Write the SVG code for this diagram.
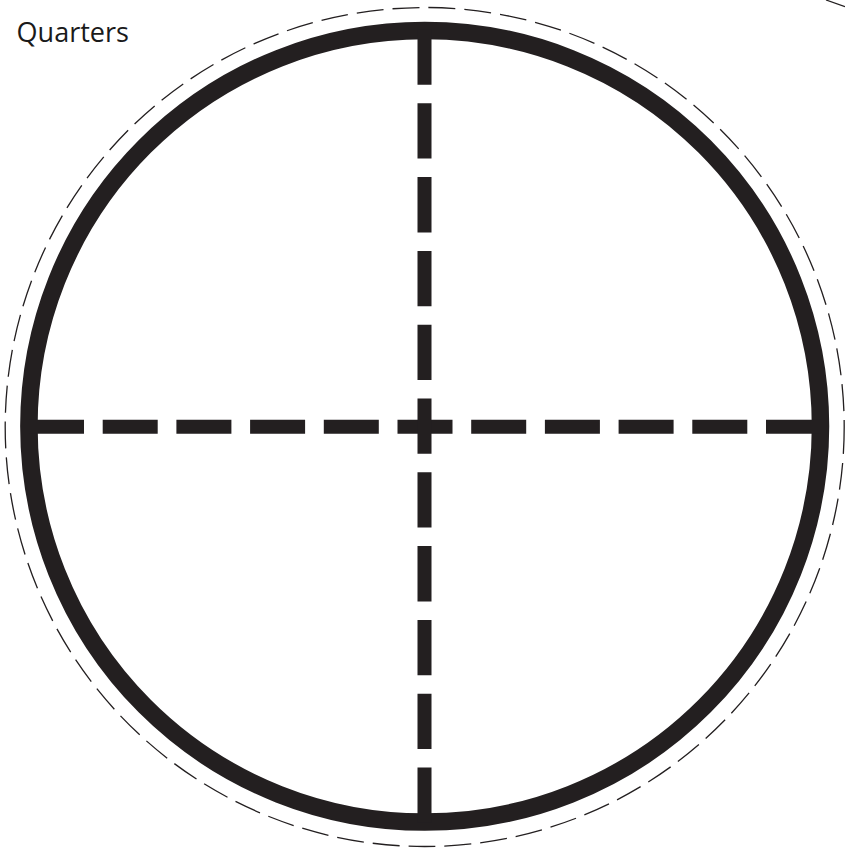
<svg xmlns="http://www.w3.org/2000/svg" width="845" height="852" viewBox="0 0 845 852">
  <style>
    .cut { fill: none; stroke: #231f20; stroke-width: 1.3; stroke-dasharray: 27 9; }
    .rim { fill: none; stroke: #231f20; stroke-width: 17.5; }
    .fold { stroke: #231f20; stroke-width: 14; fill: none; }
    .label { font-family: "Open Sans", "Liberation Sans", sans-serif; font-size: 26.5px; fill: #1a1a1a; }
  </style>
  <rect width="845" height="852" fill="#ffffff"/>
  <g id="title">
    <text class="label" x="16.5" y="41.7" textLength="112.5" lengthAdjust="spacingAndGlyphs">Quarters</text>
  </g>
  <g id="cut-line">
    <circle class="cut" cx="424.7" cy="427" r="419.5"/>
    <path d="M826 0 L845 6.7" fill="none" stroke="#231f20" stroke-width="1.3"/>
  </g>
  <g id="rim">
    <circle class="rim" cx="424.7" cy="426.3" r="395.8"/>
  </g>
  <g id="fold-lines">
    <line class="fold" x1="29" y1="426.7" x2="821" y2="426.7" stroke-dasharray="55 18.7"/>
    <line class="fold" x1="424.5" y1="29.5" x2="424.5" y2="823" stroke-dasharray="55.3 18.5"/>
  </g>
</svg>
